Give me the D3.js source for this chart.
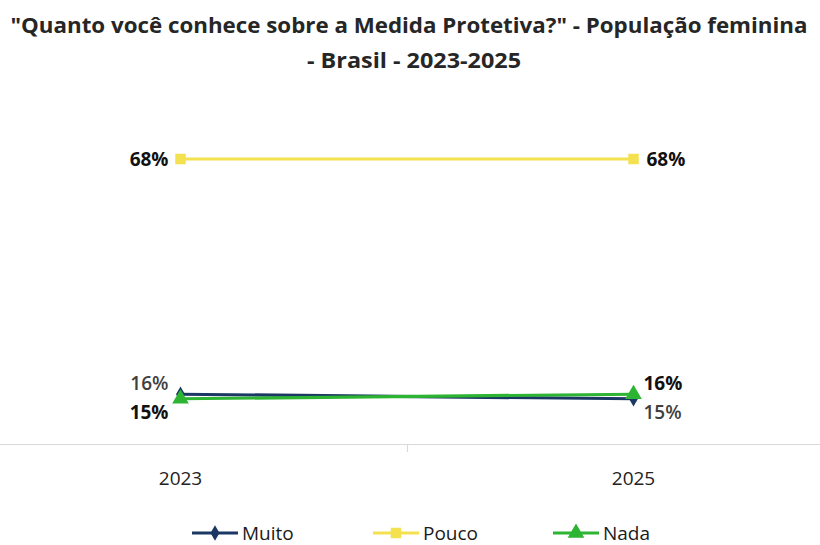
<!DOCTYPE html>
<html>
<head>
<meta charset="utf-8">
<script src="https://cdn.jsdelivr.net/npm/d3@7"></script>
<style>
  body { margin: 0; background: #fff; }
  svg { display: block; }
</style>
</head>
<body>
<div id="chart"></div>
<script>
// chart data
var years = ["2023", "2025"];
var muito = [16, 15];
var pouco = [68, 68];
var nada = [15, 16];
var seriesNames = ["Muito", "Pouco", "Nada"];

var w = 820, h = 545;
var font = "'Open Sans', 'Noto Sans', sans-serif";

var series = [
  {name: seriesNames[0], values: muito, color: "#1b3763", marker: "diamond", label: "#404040", weight: 600},
  {name: seriesNames[1], values: pouco, color: "#f3e14f", marker: "square", label: "#111", weight: 700},
  {name: seriesNames[2], values: nada, color: "#2db432", marker: "triangle", label: "#111", weight: 700}
];

var svg = d3.select("#chart").append("svg")
  .attr("width", w)
  .attr("height", h);

// title
var title = svg.append("g").attr("font-family", font).attr("font-weight", 700)
  .attr("fill", "#262626").attr("text-anchor", "middle");
title.append("text").attr("x", 409).attr("y", 33).attr("font-size", 22)
  .attr("textLength", 797).attr("lengthAdjust", "spacingAndGlyphs")
  .text("\"Quanto você conhece sobre a Medida Protetiva?\" - População feminina");
title.append("text").attr("x", 414).attr("y", 68).attr("font-size", 22)
  .attr("textLength", 214).attr("lengthAdjust", "spacingAndGlyphs")
  .text("- Brasil - 2023-2025");

// scales
var x = d3.scaleBand().domain(years).range([-46, 860]);
var y = d3.scaleLinear().domain([5, 68]).range([444, 159]);
var cx = function(d) { return x(d) + x.bandwidth() / 2; };

// category axis
svg.append("line")
  .attr("x1", 0).attr("x2", w)
  .attr("y1", 444.5).attr("y2", 444.5)
  .style("stroke", "#d9d9d9").style("stroke-width", 1.2);
for (var i = 1; i < years.length; i++) {
  var bx = Math.round(x(years[i])) + 0.5;
  svg.append("line").attr("x1", bx).attr("x2", bx).attr("y1", 444).attr("y2", 452)
    .style("stroke", "#d9d9d9").style("stroke-width", 1.2);
}
svg.selectAll(".xlab").data(years).enter().append("text")
  .attr("class", "xlab")
  .attr("x", cx).attr("y", 485)
  .attr("text-anchor", "middle")
  .attr("font-family", font).attr("font-size", 19)
  .attr("fill", "#222")
  .text(function(d) { return d; });

// marker shapes
function markerPath(type, size) {
  if (type == "diamond") return d3.symbol(d3.symbolDiamond, size)();
  if (type == "square") return d3.symbol(d3.symbolSquare, size)();
  return d3.symbol(d3.symbolTriangle, size)();
}
var markerSize = {diamond: 70, square: 110, triangle: 120};

var line = d3.line()
  .x(function(d, i) { return cx(years[i]); })
  .y(function(d) { return y(d); });

// draw order: Pouco, Muito, Nada (green on top)
[series[1], series[0], series[2]].forEach(function(s) {
  var g = svg.append("g");
  g.append("path")
    .attr("d", line(s.values))
    .style("fill", "none")
    .style("stroke", s.color)
    .style("stroke-width", 3.2);
  g.selectAll("path.m").data(s.values).enter().append("path")
    .attr("class", "m")
    .attr("d", markerPath(s.marker, markerSize[s.marker]))
    .attr("transform", function(d, i) { return "translate(" + cx(years[i]) + "," + y(d) + ")"; })
    .style("fill", s.color);
});

// data labels: left of first point, right of last point;
// for the two close series, higher value goes above, lower below
series.forEach(function(s, si) {
  s.values.forEach(function(v, i) {
    var px = cx(years[i]);
    var py = y(v);
    var first = i == 0;
    var dx = first ? -12 : 13;
    var dy = 7;
    if (s.name != "Pouco") {
      var other = s.name == "Muito" ? nada[i] : muito[i];
      dy = v >= other ? -4 : 20;
      dx = first ? -12 : 10;
    }
    svg.append("text")
      .attr("x", px + dx)
      .attr("y", py + dy)
      .attr("text-anchor", first ? "end" : "start")
      .attr("font-family", font)
      .attr("font-size", 19)
      .attr("font-weight", s.weight)
      .attr("fill", s.label)
      .text(v + "%");
  });
});

// legend
var legendX = [192, 373, 553];
var legend = svg.selectAll(".legend").data(series).enter().append("g")
  .attr("class", "legend")
  .attr("transform", function(d, i) { return "translate(" + legendX[i] + ",533)"; });
legend.append("line")
  .attr("x1", 0).attr("x2", 46).attr("y1", 0).attr("y2", 0)
  .style("stroke", function(d) { return d.color; })
  .style("stroke-width", 3.2);
legend.append("path")
  .attr("d", function(d) { return markerPath(d.marker, markerSize[d.marker]); })
  .attr("transform", "translate(23,0)")
  .style("fill", function(d) { return d.color; });
legend.append("text")
  .attr("x", 50).attr("y", 7)
  .attr("font-family", font).attr("font-size", 19)
  .attr("fill", "#1a1a1a")
  .text(function(d) { return d.name; });
</script>
</body>
</html>
